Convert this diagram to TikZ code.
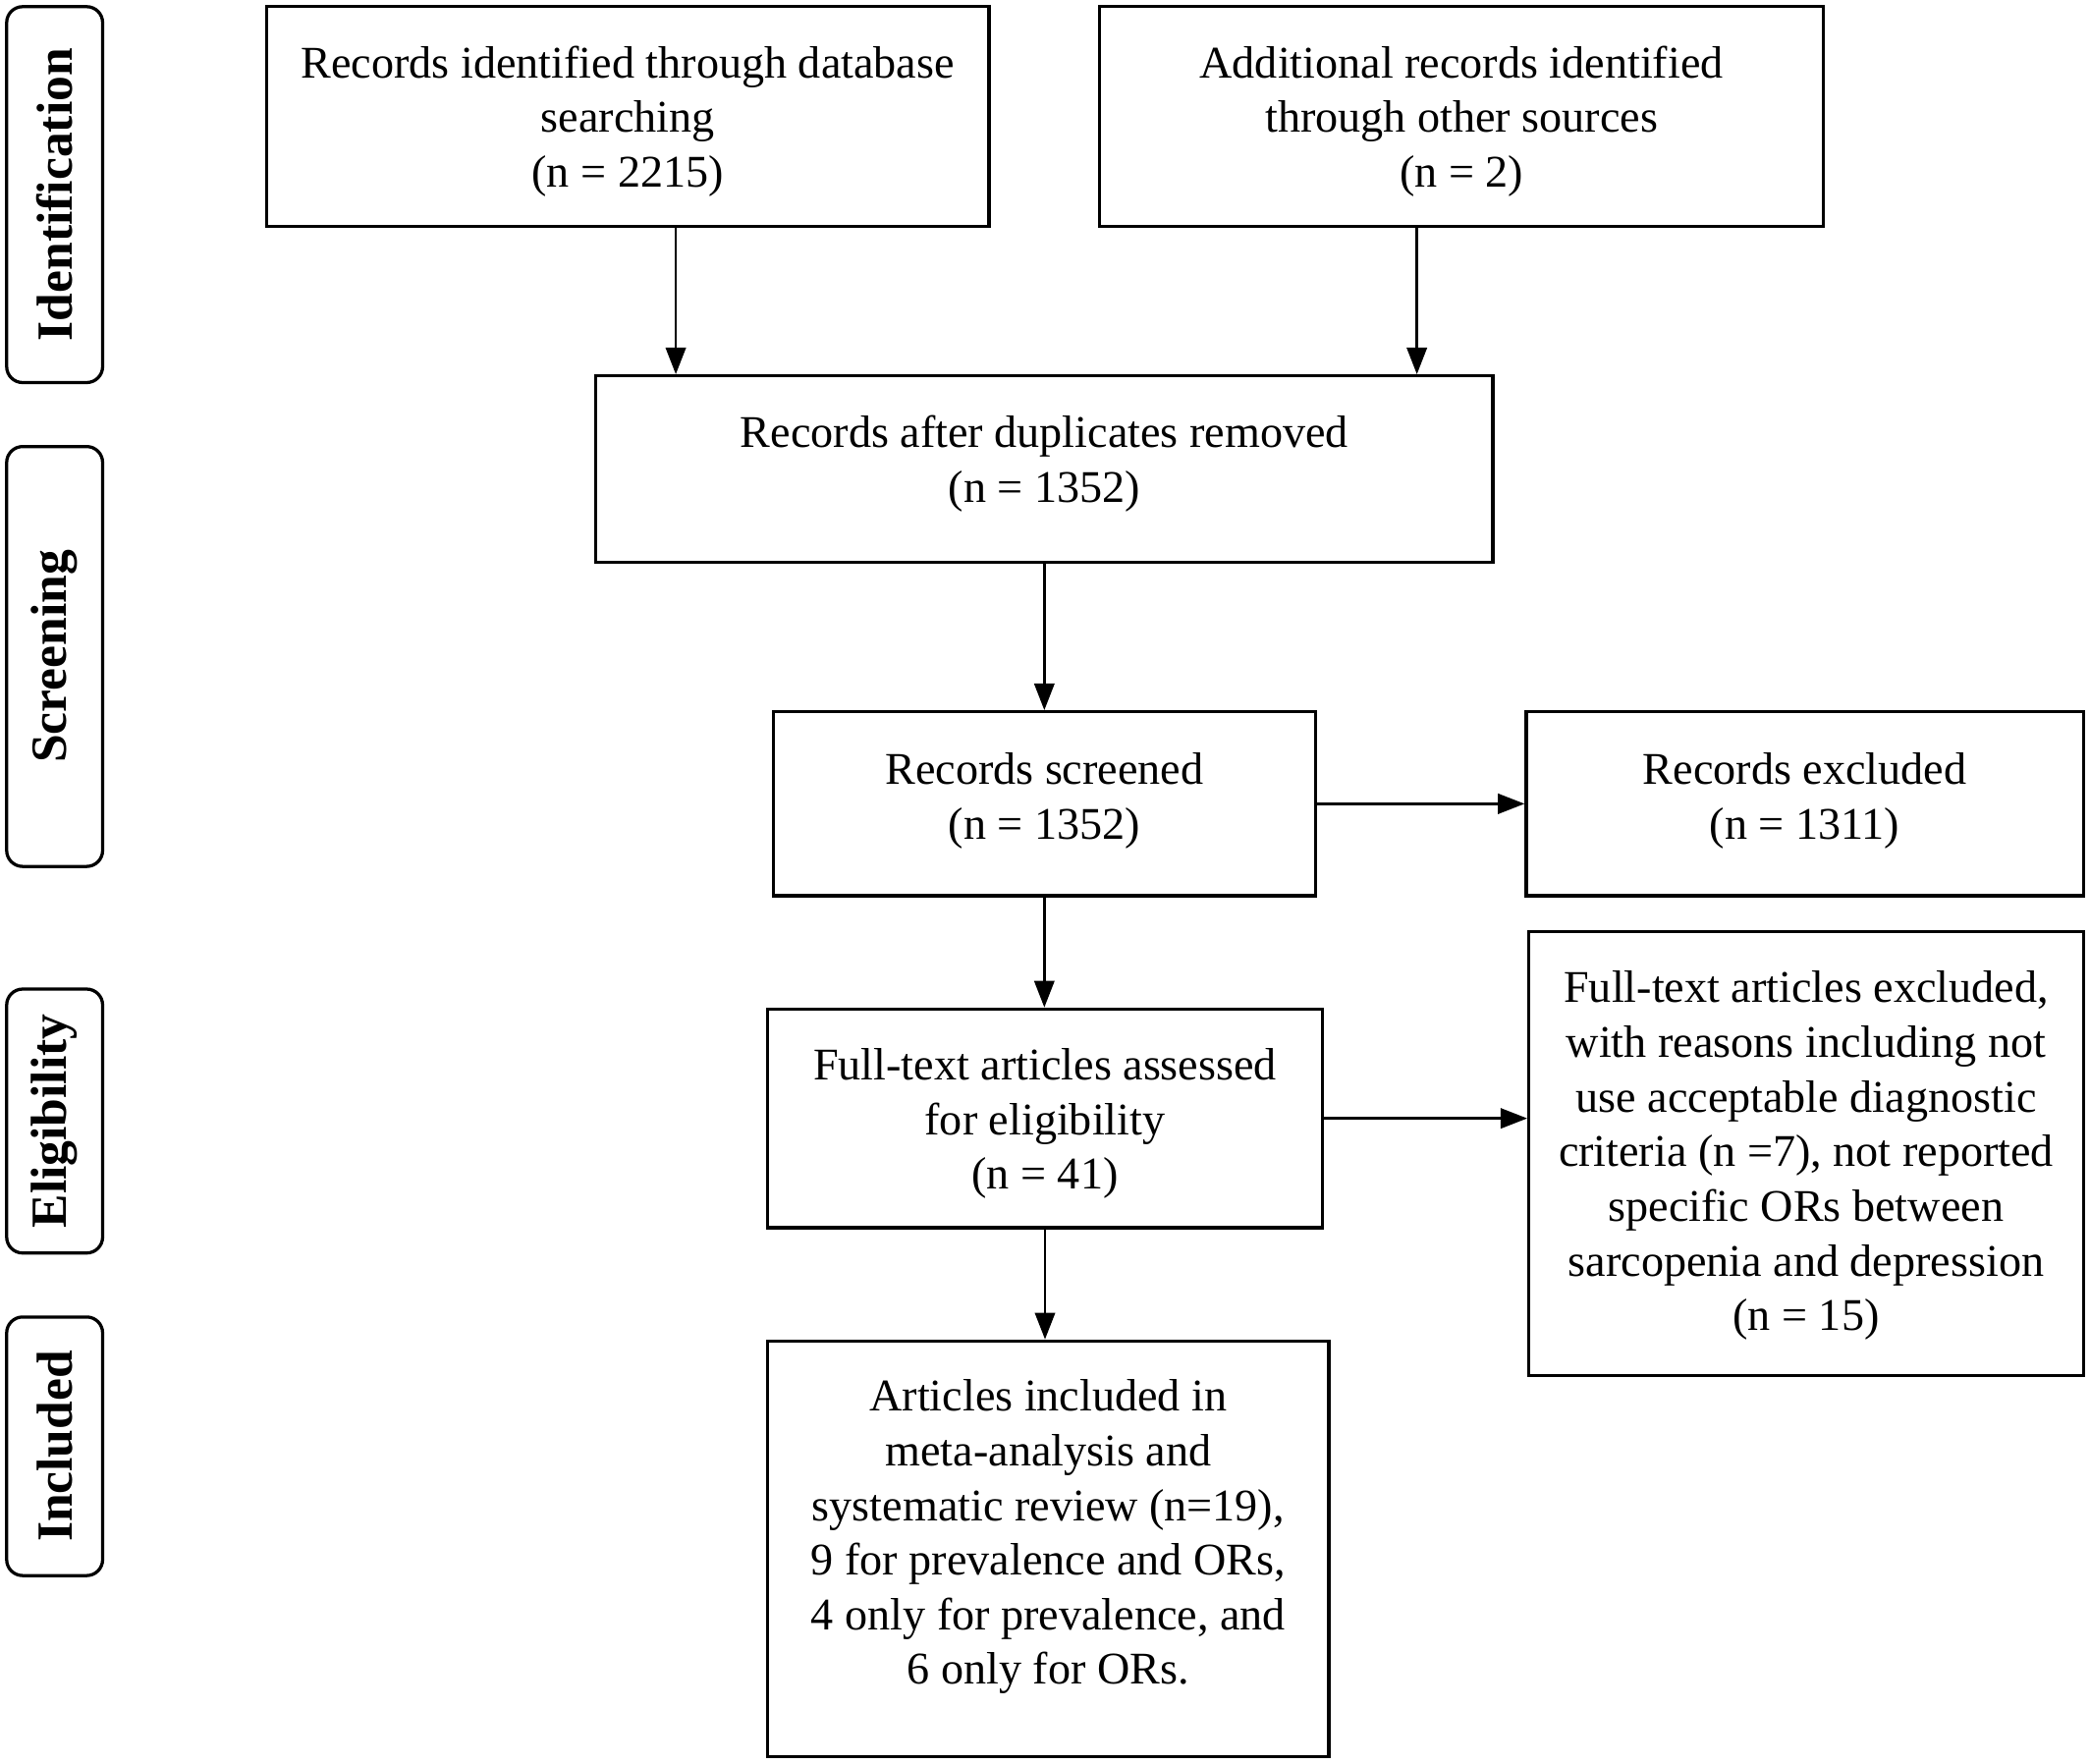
\documentclass[tikz,border=0pt]{standalone}
\usepackage{fontspec}
\setmainfont{Liberation Serif}
\usetikzlibrary{arrows.meta}
\begin{document}
\begin{tikzpicture}[x=0.5pt,y=-0.5pt,
  box/.style={draw, line width=1.2pt, inner sep=0pt},
  txt/.style={inner sep=0pt, align=center, font=\fontsize{17}{20.5}\selectfont},
  side/.style={draw, line width=1.2pt, rounded corners=6pt, inner sep=0pt, rotate=90, minimum height=36pt, font=\fontsize{19}{22}\selectfont\bfseries},
  arr/.style={line width=1pt, -{Triangle[length=10pt,width=7.5pt]}}]
\useasboundingbox (0,0) rectangle (1568,1323);

% side labels
\node[side, minimum width=141pt] (sid) at (41,146) {Identification};
\node[side, minimum width=157.5pt] (sscr) at (41,492.5) {Screening};
\node[side, minimum width=99pt] (selig) at (41,841) {Eligibility};
\node[side, minimum width=97pt] (sincl) at (41,1085) {Included};

% boxes
\node[box, minimum width=271pt, minimum height=82.5pt] (A) at (471,87.5) {};
\node[box, minimum width=271.5pt, minimum height=82.5pt] (B) at (1096.5,87.5) {};
\node[box, minimum width=336.5pt, minimum height=70pt] (C) at (783.5,352) {};
\node[box, minimum width=203.5pt, minimum height=69pt] (D) at (783.5,603) {};
\node[box, minimum width=209pt, minimum height=69pt] (E) at (1354,603) {};
\node[box, minimum width=208pt, minimum height=82pt] (F) at (784,839) {};
\node[box, minimum width=208pt, minimum height=166.5pt] (G) at (1355,865.5) {};
\node[box, minimum width=210.5pt, minimum height=156pt] (H) at (786.5,1162) {};

% texts
\node[txt] (At) at (471,91) {Records identified through database\\searching\\(n = 2215)};
\node[txt] (Bt) at (1096.5,91) {Additional records identified\\through other sources\\(n = 2)};
\node[txt] (Ct) at (783.5,348) {Records after duplicates removed\\(n = 1352)};
\node[txt] (Dt) at (783.5,601) {Records screened\\(n = 1352)};
\node[txt] (Et) at (1354,601) {Records excluded\\(n = 1311)};
\node[txt] (Ft) at (784,843) {Full-text articles assessed\\for eligibility\\(n = 41)};
\node[txt] (Gt) at (1355,867) {Full-text articles excluded,\\with reasons including not\\use acceptable diagnostic\\criteria (n =7), not reported\\specific ORs between\\sarcopenia and depression\\(n = 15)};
\node[txt] (Ht) at (786.5,1153) {Articles included in\\meta-analysis and\\systematic review (n=19),\\9 for prevalence and ORs,\\4 only for prevalence, and\\6 only for ORs.};

% connectors
\coordinate (ax) at (507,0);
\coordinate (bx) at (1063,0);
\draw[arr] (A.south -| ax) -- (C.north -| ax);
\draw[arr] (B.south -| bx) -- (C.north -| bx);
\draw[arr] (C.south) -- (D.north);
\draw[arr] (D.east) -- (E.west);
\draw[arr] (D.south) -- (F.north -| D.south);
\draw[arr] (F.east) -- (G.west |- F.east);
\draw[arr] (F.south) -- (H.north -| F.south);
\end{tikzpicture}
\end{document}
